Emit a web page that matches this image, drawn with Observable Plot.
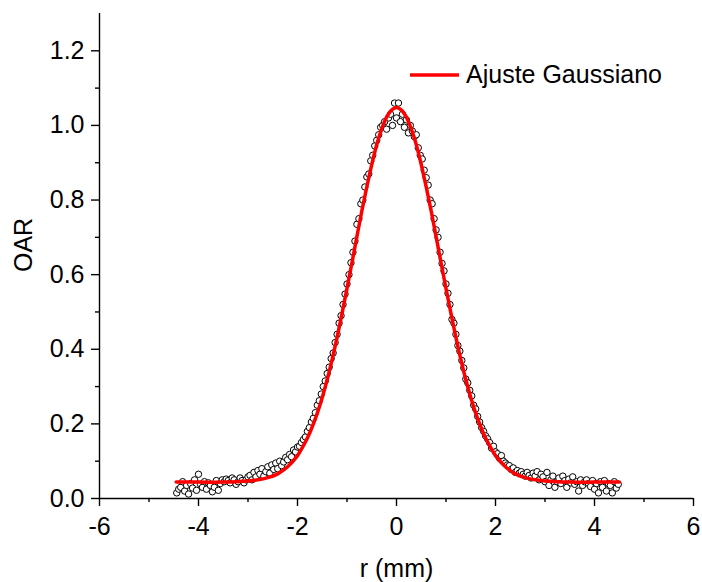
<!DOCTYPE html>
<html>
<head>
<meta charset="utf-8">
<script src="https://cdn.jsdelivr.net/npm/d3@7"></script>
<script src="https://cdn.jsdelivr.net/npm/@observablehq/plot@0.6"></script>
<style>
  html, body { margin: 0; padding: 0; background: #fff; }
  #chart { width: 702px; height: 582px; }
</style>
</head>
<body>
<div id="chart"></div>
<script>
const rMeasured = [
  -4.44,-4.40,-4.36,-4.32,-4.28,-4.24,-4.20,-4.16,-4.12,-4.08,-4.04,-4.00,-3.96,-3.92,-3.88,-3.84,-3.80,-3.76,-3.72,-3.68,-3.64,-3.60,-3.56,-3.52,-3.48,-3.44,-3.40,-3.36,-3.32,-3.28,-3.24,-3.20,-3.16,-3.12,-3.08,-3.04,-3.00,
  -2.96,-2.92,-2.88,-2.84,-2.80,-2.76,-2.72,-2.68,-2.64,-2.60,-2.56,-2.52,-2.48,-2.44,-2.40,-2.36,-2.32,-2.28,-2.24,-2.20,-2.16,-2.12,-2.08,-2.04,-2.00,
  -1.96,-1.92,-1.88,-1.84,-1.80,-1.76,-1.72,-1.68,-1.64,-1.60,-1.56,-1.52,-1.48,-1.44,-1.40,-1.36,-1.32,-1.28,-1.24,-1.20,-1.16,-1.12,-1.08,-1.04,-1.00,
  -0.96,-0.92,-0.88,-0.84,-0.80,-0.76,-0.72,-0.68,-0.64,-0.60,-0.56,-0.52,-0.48,-0.44,-0.40,-0.36,-0.32,-0.28,-0.24,-0.20,-0.16,-0.12,-0.08,-0.04,
  0.00,0.04,0.08,0.12,0.16,0.20,0.24,0.28,0.32,0.36,0.40,0.44,0.48,0.52,0.56,0.60,0.64,0.68,0.72,0.76,0.80,0.84,0.88,0.92,0.96,
  1.00,1.04,1.08,1.12,1.16,1.20,1.24,1.28,1.32,1.36,1.40,1.44,1.48,1.52,1.56,1.60,1.64,1.68,1.72,1.76,1.80,1.84,1.88,1.92,1.96,
  2.00,2.04,2.08,2.12,2.16,2.20,2.24,2.28,2.32,2.36,2.40,2.44,2.48,2.52,2.56,2.60,2.64,2.68,2.72,2.76,2.80,2.84,2.88,2.92,2.96,
  3.00,3.04,3.08,3.12,3.16,3.20,3.24,3.28,3.32,3.36,3.40,3.44,3.48,3.52,3.56,3.60,3.64,3.68,3.72,3.76,3.80,3.84,3.88,3.92,3.96,
  4.00,4.04,4.08,4.12,4.16,4.20,4.24,4.28,4.32,4.36,4.40,4.44,4.48
];
const oarMeasured = [
  0.015,0.025,0.030,0.045,0.020,0.035,0.012,0.040,0.028,0.050,0.022,0.065,0.038,0.030,0.045,0.025,0.042,0.035,0.018,0.030,0.048,0.022,0.040,0.050,0.045,0.052,0.048,0.042,0.055,0.050,0.038,0.045,0.055,0.048,0.042,0.050,0.058,
  0.062,0.050,0.070,0.058,0.075,0.065,0.080,0.060,0.072,0.085,0.068,0.090,0.078,0.095,0.080,0.100,0.088,0.098,0.110,0.104,0.118,0.112,0.130,0.125,0.138,
  0.140,0.150,0.158,0.165,0.180,0.190,0.205,0.215,0.230,0.250,0.262,0.280,0.300,0.315,0.335,0.352,0.375,0.390,0.418,0.440,0.470,0.490,0.520,0.548,0.575,
  0.600,0.632,0.660,0.690,0.735,0.750,0.790,0.800,0.835,0.862,0.870,0.905,0.920,0.945,0.960,0.975,0.995,1.000,1.010,0.990,1.020,1.030,1.000,1.060,
  1.020,1.060,1.010,1.030,0.995,1.015,0.980,1.000,0.985,0.970,0.975,0.940,0.920,0.910,0.880,0.860,0.840,0.800,0.790,0.750,0.720,0.700,0.660,0.630,0.610,
  0.575,0.550,0.520,0.480,0.470,0.440,0.410,0.395,0.370,0.350,0.320,0.310,0.290,0.275,0.250,0.240,0.220,0.205,0.190,0.180,0.168,0.160,0.150,0.135,0.140,
  0.125,0.120,0.108,0.115,0.100,0.095,0.090,0.088,0.078,0.082,0.070,0.075,0.068,0.072,0.065,0.060,0.070,0.062,0.055,0.068,0.060,0.072,0.050,0.065,0.058,
  0.045,0.070,0.035,0.050,0.060,0.030,0.045,0.055,0.040,0.060,0.048,0.030,0.052,0.042,0.058,0.038,0.045,0.020,0.050,0.035,0.045,0.050,0.040,0.032,0.048,
  0.025,0.040,0.015,0.045,0.030,0.048,0.020,0.040,0.035,0.015,0.045,0.028,0.038
];

// ---- Gaussian fit curve ----
const rFit = [-4.45,-4.0,-3.5,-3.0,-2.8,-2.6,-2.4,-2.2,-2.0,-1.9,-1.8,-1.7,-1.6,-1.5,-1.4,-1.3,-1.2,-1.1,-1.0,-0.9,-0.8,-0.7,-0.6,-0.5,-0.4,-0.3,-0.2,-0.1,0,
  0.1,0.2,0.3,0.4,0.5,0.6,0.7,0.8,0.9,1.0,1.1,1.2,1.3,1.4,1.5,1.6,1.7,1.8,1.9,2.0,2.2,2.4,2.6,2.8,3.0,3.5,4.0,4.5];
const oarFit = [0.044,0.044,0.044,0.047,0.050,0.056,0.066,0.085,0.115,0.137,0.162,0.193,0.229,0.271,0.319,0.373,0.432,0.496,0.563,0.632,0.702,0.771,0.835,0.895,0.948,0.990,1.022,1.041,1.048,
  1.041,1.022,0.990,0.948,0.895,0.835,0.771,0.702,0.632,0.563,0.496,0.432,0.373,0.319,0.271,0.229,0.193,0.162,0.137,0.115,0.085,0.066,0.056,0.050,0.047,0.044,0.044,0.044];

// ---- Axis ticks ----
const xTicks = [-6,-4,-2,0,2,4,6];
const xMinorTicks = [-5,-3,-1,1,3,5];
const yTicks = [0,0.2,0.4,0.6,0.8,1.0,1.2];
const yMinorTicks = [0.1,0.3,0.5,0.7,0.9,1.1];
const xTitle = "r (mm)";
const yTitle = "OAR";
const legendLabel = "Ajuste Gaussiano";

const measured = rMeasured.map((r, i) => ({r, oar: oarMeasured[i]}));
const fit = rFit.map((r, i) => ({r, oar: oarFit[i]}));

const FONT = "'Liberation Sans', Arial, Helvetica, sans-serif";
const FS = 25;

const svg = Plot.plot({
  width: 702,
  height: 582,
  marginLeft: 99,
  marginRight: 9,
  marginTop: 13,
  marginBottom: 84,
  style: {fontFamily: FONT, fontSize: FS + "px", color: "black", background: "white"},
  x: {domain: [-6, 6]},
  y: {domain: [0, 1.3]},
  marks: [
    Plot.dot(measured, {x: "r", y: "oar", r: 3.2, stroke: "black", fill: "white", strokeWidth: 1}),
    Plot.line(fit, {x: "r", y: "oar", stroke: "#ff0000", strokeWidth: 3.5, curve: "catmull-rom"}),
    Plot.ruleY([0], {stroke: "black", strokeWidth: 1.4}),
    Plot.ruleX([-6], {stroke: "black", strokeWidth: 1.4}),
    Plot.axisX({ticks: xTicks, tickSize: 8, tickPadding: 11, tickFormat: d => String(d), fontSize: FS, label: null, strokeWidth: 1.4}),
    Plot.axisX({ticks: xMinorTicks, tickSize: 4, tickFormat: null, text: null, label: null, strokeWidth: 1.4}),
    Plot.axisY({ticks: yTicks, tickSize: 8, tickPadding: 7, tickFormat: d => d.toFixed(1), fontSize: FS, label: null, strokeWidth: 1.4}),
    Plot.axisY({ticks: yMinorTicks, tickSize: 4, tickFormat: null, text: null, label: null, strokeWidth: 1.4}),
    Plot.text([xTitle], {frameAnchor: "bottom", dy: 70, fontSize: FS, lineAnchor: "middle", fill: "black"}),
    Plot.text([yTitle], {frameAnchor: "left", dx: -76, dy: 16, rotate: -90, fontSize: FS, lineAnchor: "middle", fill: "black"})
  ]
});

// Legend inside the plot
const g = d3.select(svg).append("g").attr("font-family", FONT).attr("text-anchor", "start");
g.append("line").attr("x1", 410).attr("x2", 459).attr("y1", 75).attr("y2", 75)
  .attr("stroke", "#ff0000").attr("stroke-width", 3.4);
g.append("text").attr("x", 466).attr("y", 83).attr("font-size", FS).attr("fill", "black")
  .attr("text-anchor", "start").text(legendLabel);

document.getElementById("chart").appendChild(svg);
</script>
</body>
</html>
